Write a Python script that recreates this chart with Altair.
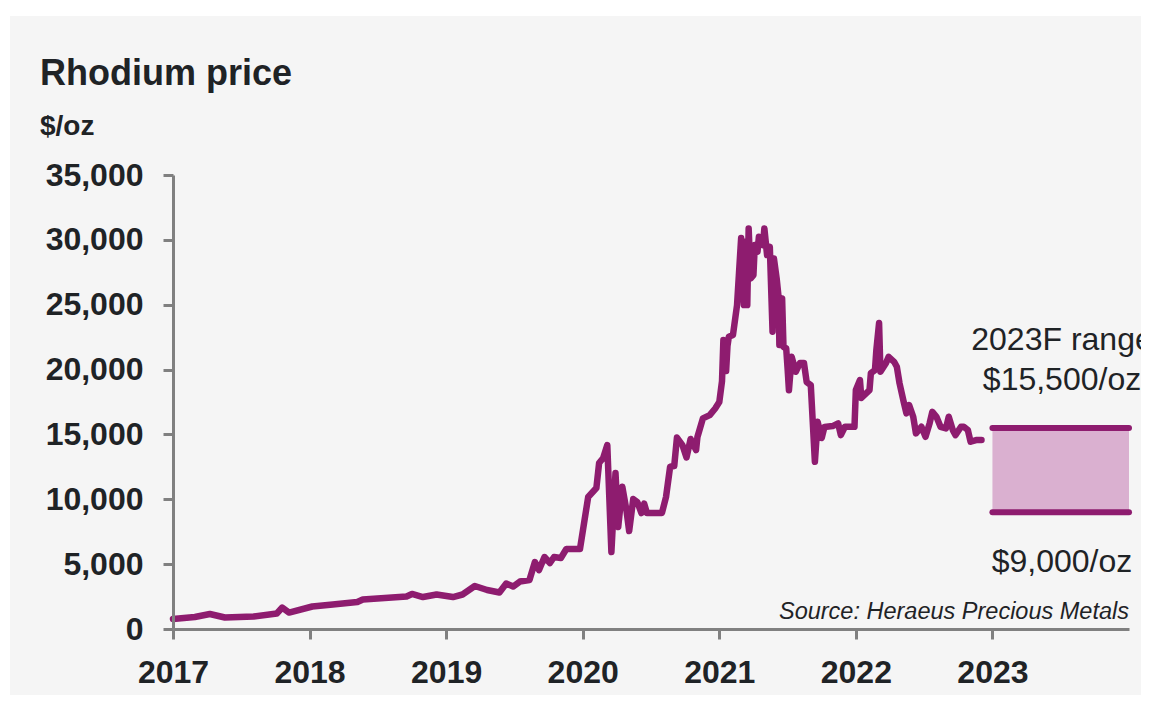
import altair as alt
import pandas as pd

# ---- data ----
years = [2017.00, 2017.16, 2017.27, 2017.38, 2017.59, 2017.76, 2017.80, 2017.85, 2018.02, 2018.17,
         2018.35, 2018.39, 2018.71, 2018.75, 2018.83, 2018.93, 2019.05, 2019.12, 2019.21, 2019.30,
         2019.39, 2019.44, 2019.49, 2019.54, 2019.61, 2019.65, 2019.68, 2019.72, 2019.76, 2019.79,
         2019.84, 2019.88, 2019.98, 2020.01, 2020.04, 2020.10, 2020.12, 2020.15, 2020.18, 2020.21,
         2020.24, 2020.26, 2020.29, 2020.32, 2020.34, 2020.37, 2020.40, 2020.43, 2020.45, 2020.47,
         2020.58, 2020.61, 2020.64, 2020.67, 2020.69, 2020.73, 2020.76, 2020.79, 2020.83, 2020.84,
         2020.88, 2020.93, 2020.97, 2021.00, 2021.02, 2021.03, 2021.05, 2021.06, 2021.07, 2021.10,
         2021.11, 2021.13, 2021.16, 2021.18, 2021.19, 2021.205, 2021.215, 2021.23, 2021.25, 2021.26,
         2021.28, 2021.29, 2021.32, 2021.33, 2021.35, 2021.37, 2021.39, 2021.40, 2021.42, 2021.435,
         2021.44, 2021.46, 2021.47, 2021.49, 2021.50, 2021.51, 2021.53, 2021.56, 2021.59, 2021.62,
         2021.64, 2021.67, 2021.70, 2021.72, 2021.75, 2021.77, 2021.83, 2021.87, 2021.89, 2021.92,
         2021.99, 2022.00, 2022.03, 2022.04, 2022.10, 2022.11, 2022.14, 2022.15, 2022.17, 2022.18,
         2022.22, 2022.24, 2022.28, 2022.30, 2022.32, 2022.35, 2022.37, 2022.39, 2022.42, 2022.44,
         2022.48, 2022.51, 2022.54, 2022.56, 2022.59, 2022.62, 2022.66, 2022.68, 2022.71, 2022.73,
         2022.77, 2022.79, 2022.82, 2022.84, 2022.88, 2022.92]

prices = [770, 925, 1155, 885, 965, 1195, 1655, 1270, 1735, 1890,
          2080, 2275, 2505, 2700, 2465, 2660, 2465, 2660, 3315, 3005,
          2815, 3505, 3275, 3660, 3775, 5165, 4545, 5550, 5085, 5550,
          5470, 6165, 6165, 8170, 10175, 10865, 12795, 13180, 14180, 5935,
          12025, 7860, 10965, 9170, 7555, 10020, 9790, 8940, 9670, 8940,
          8940, 10175, 12510, 12560, 14760, 14180, 13220, 14645, 13795, 14800,
          16240, 16490, 17000, 17495, 19115, 22275, 19885, 21810, 22530, 22660,
          23430, 24970, 30135, 24970, 29850, 24970, 30880, 27030, 27280, 29595,
          29080, 30235, 29595, 30880, 28825, 29465, 22915, 28570, 27030, 25485,
          21890, 25485, 21755, 21635, 20090, 18405, 20985, 19830, 20500, 20500,
          19035, 18805, 12895, 15975, 14720, 15570, 15645, 15855, 14950, 15590,
          15590, 18420, 19190, 17805, 18420, 19730, 19960, 21500, 23585, 19830,
          20480, 20985, 20600, 20215, 18935, 17520, 16625, 17265, 16360, 15080,
          15590, 14820, 15855, 16745, 16360, 15590, 15470, 16360, 15335, 14950,
          15590, 15590, 15335, 14435, 14565, 14565]

forecast_start = [2023]
forecast_end = [2024]
forecast_low = [9000]
forecast_high = [15500]

x_ticks = [2017, 2018, 2019, 2020, 2021, 2022, 2023]
y_ticks = [0, 5000, 10000, 15000, 20000, 25000, 30000, 35000]

title_text = "Rhodium price"
unit_text = "$/oz"
range_label = ["2023F range", "$15,500/oz"]
low_label = "$9,000/oz"
source_text = "Source: Heraeus Precious Metals"

PURPLE = "#8e1c6f"
BAND = "#dab0d0"
TEXT = "#1f2326"
AXIS = "#808080"
BG = "#f5f5f5"
FONT = "Liberation Sans"

W, H = 956, 454
PAD = {"left": 165, "top": 167, "right": 12, "bottom": 67}

df = pd.DataFrame({"year": years, "price": prices})
df["i"] = range(len(df))
band_df = pd.DataFrame({"x": forecast_start, "x2": forecast_end,
                        "lo": forecast_low, "hi": forecast_high})

xscale = alt.Scale(domain=[2017, 2024], nice=False, zero=False)
yscale = alt.Scale(domain=[0, 35000], nice=False)

axis_style = dict(
    title=None, grid=False, zindex=1, labelFlush=False,
    domainColor=AXIS, domainWidth=3, tickColor=AXIS, tickWidth=3, tickSize=10,
    labelFont=FONT, labelFontSize=32, labelFontWeight="bold", labelColor=TEXT,
)

bg = alt.Chart(pd.DataFrame({"a": [0]})).mark_rect(color=BG).encode(
    x=alt.value(-163), x2=alt.value(W + PAD["right"]),
    y=alt.value(-159), y2=alt.value(520),
)

line = alt.Chart(df).mark_line(
    color=PURPLE, strokeWidth=6.5, strokeCap="round", strokeJoin="round"
).encode(
    x=alt.X("year:Q", scale=xscale,
            axis=alt.Axis(values=x_ticks, format="d", labelPadding=18, **axis_style)),
    y=alt.Y("price:Q", scale=yscale,
            axis=alt.Axis(values=y_ticks, format=",.0f", labelPadding=20, **axis_style)),
    order=alt.Order("i:Q"),
)

band = alt.Chart(band_df).mark_rect(color=BAND).encode(
    x="x:Q", x2="x2:Q", y="lo:Q", y2="hi:Q"
)
rule_hi = alt.Chart(band_df).mark_rule(color=PURPLE, strokeWidth=6, strokeCap="round").encode(
    x="x:Q", x2="x2:Q", y="hi:Q"
)
rule_lo = alt.Chart(band_df).mark_rule(color=PURPLE, strokeWidth=6, strokeCap="round").encode(
    x="x:Q", x2="x2:Q", y="lo:Q"
)

def txt(text, x, y, size, weight="normal", style="normal", align="left"):
    return alt.Chart(pd.DataFrame({"t": [text]})).mark_text(
        font=FONT, fontSize=size, fontWeight=weight, fontStyle=style,
        align=align, baseline="alphabetic", color=TEXT
    ).encode(x=x, y=y, text="t:N")

t_title = txt(title_text, alt.value(-133), alt.value(-90), 36, weight="bold")
t_unit = txt(unit_text, alt.value(-133), alt.value(-40), 28, weight="bold")
t_r1 = txt(range_label[0], alt.value(889), alt.value(350 - 175), 32, align="center")
t_r2 = txt(range_label[1], alt.value(889), alt.value(390 - 175), 32, align="center")
t_lo = txt(low_label, alt.value(889), alt.value(572 - 175), 32, align="center")
t_src = txt(source_text, alt.value(W), alt.value(619 - 175), 23.5, style="italic", align="right")

chart = alt.layer(
    bg, line, band, rule_hi, rule_lo, t_title, t_unit, t_r1, t_r2, t_lo, t_src
).properties(
    width=W, height=H, padding=PAD, background="white",
    autosize=alt.AutoSizeParams(type="none"),
).configure_view(
    stroke=None
)

chart.save("out.html", embed_options={"renderer": "svg", "actions": False})
